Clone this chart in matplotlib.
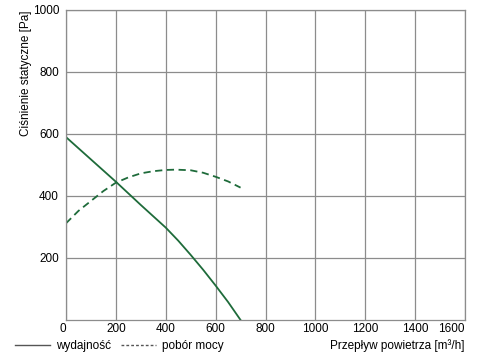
import matplotlib
matplotlib.use('Agg')
import matplotlib.pyplot as plt
from matplotlib.lines import Line2D

flow_solid = [0, 100, 200, 300, 400, 450, 500, 550, 600, 650, 700]
press_solid = [590, 518, 446, 371, 298, 256, 210, 162, 111, 58, 0]

flow_dash = [0, 50, 100, 150, 200, 250, 300, 350, 400, 440, 500, 550, 600, 650, 700]
power_dash = [312, 352, 384, 416, 443, 460, 473, 480, 484, 485, 483, 475, 462, 447, 427]

xticks = [0, 200, 400, 600, 800, 1000, 1200, 1400, 1600]
yticks = [200, 400, 600, 800, 1000]

green = '#1e6b3a'
grid_c = '#8c8c8c'

plt.rcParams['font.family'] = ['Liberation Sans', 'DejaVu Sans']
fig = plt.figure(figsize=(4.79, 3.63), dpi=100)
W, H = 479.0, 363.0
ax = fig.add_axes([66 / W, 1 - 320 / H, (465 - 66) / W, (320 - 10) / H])

ax.plot(flow_solid, press_solid, color=green, lw=1.3)
ax.plot(flow_dash, power_dash, color=green, lw=1.3, ls=(0, (4, 2.5)))

ax.set_xlim(0, 1600)
ax.set_ylim(0, 1000)
ax.set_xticks(xticks)
ax.set_yticks(yticks)
ax.grid(True, color=grid_c, lw=0.9)
for s in ax.spines.values():
    s.set_color(grid_c)
    s.set_linewidth(0.9)
ax.tick_params(length=0, labelsize=8.5, colors='black')
ax.tick_params(axis='x', pad=2)
ax.tick_params(axis='y', pad=5)
xl = ax.get_xticklabels()
xl[0].set_ha('right')
xl[-1].set_ha('right')

fig.text(26 / W, 1 - 10 / H, 'Ciśnienie statyczne [Pa]', rotation=90,
         ha='center', va='top', fontsize=8.5)
fig.text(465 / W, 1 - 346 / H, 'Przepływ powietrza [m³/h]',
         ha='right', va='center', fontsize=8.5)

handles = [Line2D([], [], color='#555555', lw=1),
           Line2D([], [], color='#555555', lw=1, ls=(0, (2, 1.5)))]
fig.legend(handles, ['wydajność', 'pobór mocy'], loc='center left',
           bbox_to_anchor=(15 / W, 1 - 346 / H), ncol=2, frameon=False,
           fontsize=8.5, handlelength=3.0, handletextpad=0.5,
           columnspacing=0.8, borderpad=0, borderaxespad=0)

fig.savefig('out.png', dpi=100)
